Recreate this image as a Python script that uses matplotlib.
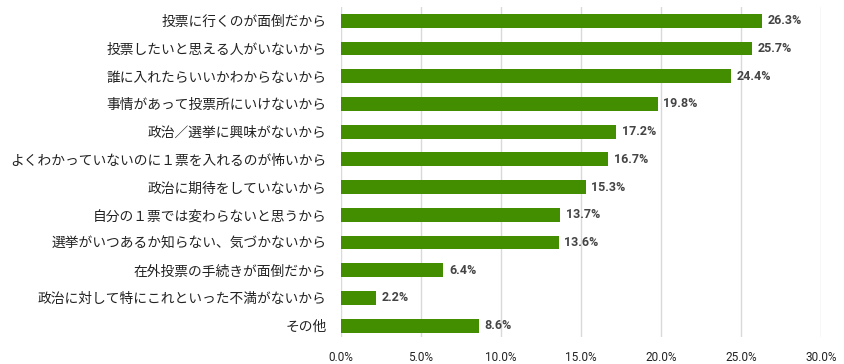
import matplotlib.pyplot as plt

plt.rcParams['font.family'] = ['Noto Sans CJK JP', 'DejaVu Sans']

labels = [
    '投票に行くのが面倒だから',
    '投票したいと思える人がいないから',
    '誰に入れたらいいかわからないから',
    '事情があって投票所にいけないから',
    '政治／選挙に興味がないから',
    'よくわかっていないのに１票を入れるのが怖いから',
    '政治に期待をしていないから',
    '自分の１票では変わらないと思うから',
    '選挙がいつあるか知らない、気づかないから',
    '在外投票の手続きが面倒だから',
    '政治に対して特にこれといった不満がないから',
    'その他',
]
values = [26.3, 25.7, 24.4, 19.8, 17.2, 16.7, 15.3, 13.7, 13.6, 6.4, 2.2, 8.6]
xticks = [0, 5, 10, 15, 20, 25, 30]

fig = plt.figure(figsize=(8.44, 3.64), dpi=100)
ax = fig.add_axes([0.404, 0.074, 0.5687, 0.907])

y = list(range(len(labels)))
ax.barh(y, values, height=0.5, color='#428e00', zorder=2)
for yi, v in zip(y, values):
    ax.text(v + 0.35, yi, f'{v:.1f}%', va='center', ha='left',
            fontsize=9, fontweight='bold', color='#444444', family='Roboto')

ax.set_xlim(0, 30)
ax.set_ylim(11.41, -0.5)
ax.set_xticks(xticks)
ax.set_xticklabels([f'{t:.1f}%' for t in xticks], family='Roboto', fontsize=8.5)
ax.set_yticks(y)
ax.set_yticklabels(labels, fontsize=9.9)
ax.tick_params(axis='both', length=0, colors='#222222')
ax.tick_params(axis='x', pad=10)
ax.tick_params(axis='y', pad=10.5)
ax.grid(axis='x', color='#d9d9d9', linewidth=1, zorder=0)
for s in ax.spines.values():
    s.set_visible(False)

fig.savefig('out.png', dpi=100)
